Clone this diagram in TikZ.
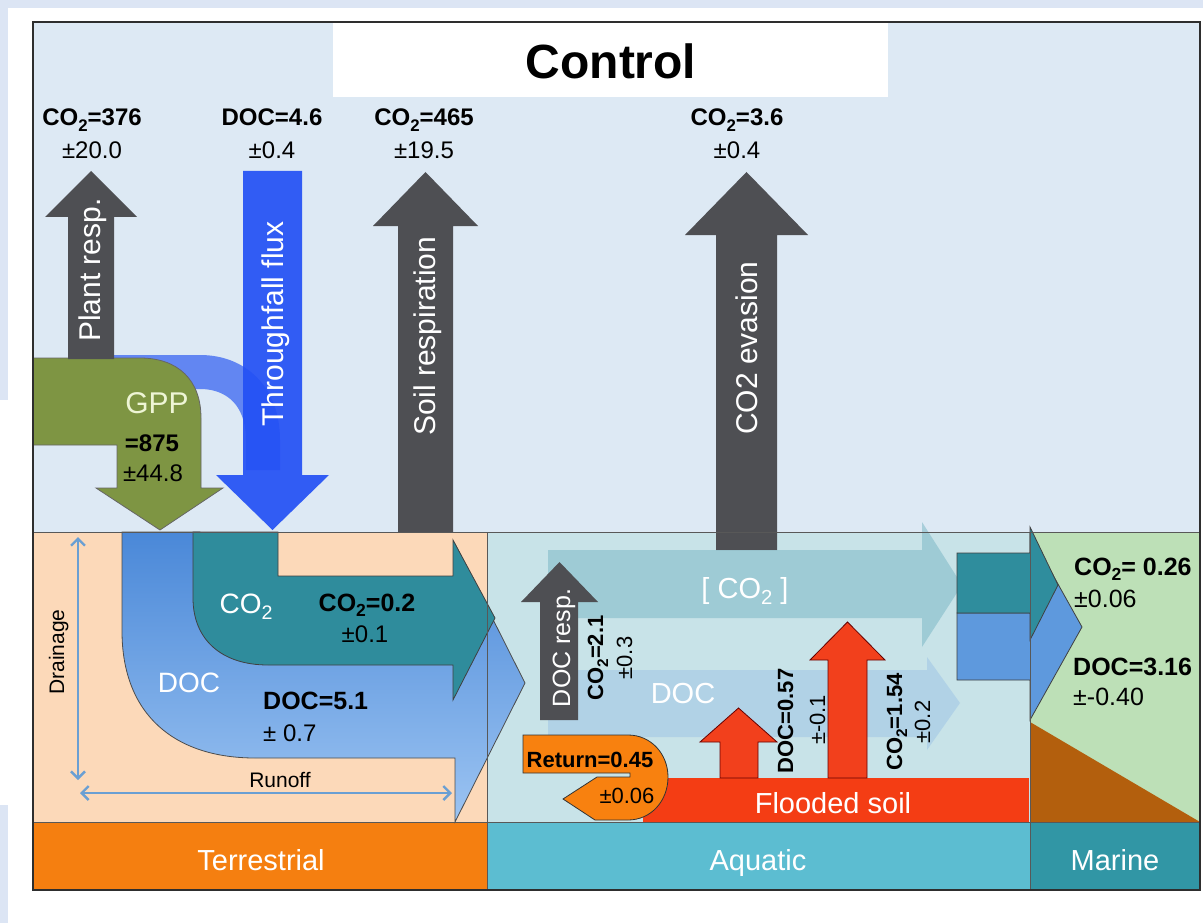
\documentclass[tikz,border=0pt]{standalone}
\usepackage{fontspec}
\setmainfont{Liberation Sans}
\usetikzlibrary{arrows.meta}

\definecolor{sky}{HTML}{DDE9F4}
\definecolor{edgeblue}{HTML}{DCE5F4}
\definecolor{terrbg}{HTML}{FCD9B9}
\definecolor{aquabg}{HTML}{C8E3E8}
\definecolor{marbg}{HTML}{BDE0B7}
\definecolor{terrbar}{HTML}{F57F10}
\definecolor{aquabar}{HTML}{5CBDD1}
\definecolor{marbar}{HTML}{3196A5}
\definecolor{respgray}{HTML}{4E4F53}
\definecolor{gppgreen}{HTML}{7E9543}
\definecolor{gpptext}{HTML}{EEF5D5}
\definecolor{tfblue}{HTML}{2350F5}
\definecolor{bandblue}{HTML}{6286F2}
\definecolor{coteal}{HTML}{2F8C9C}
\definecolor{doctop}{HTML}{4A88D8}
\definecolor{docbot}{HTML}{9CC4F2}
\definecolor{marco}{HTML}{2F8D9D}
\definecolor{mardoc}{HTML}{5E99DD}
\definecolor{flood}{HTML}{F43D14}
\definecolor{redarr}{HTML}{F2401C}
\definecolor{retorange}{HTML}{F8810F}
\definecolor{sediment}{HTML}{B35F0D}
\definecolor{coband}{HTML}{7DB8C6}
\definecolor{docband}{HTML}{9CC3E6}
\definecolor{guide}{HTML}{6A9FD3}
\definecolor{framec}{HTML}{2E2E2E}

\newcommand{\fsz}[1]{\fontsize{#1}{#1}\selectfont}
\newcommand{\lowtwo}{\raisebox{-0.45ex}{\scalebox{0.7}{2}}}

\tikzset{
  valb/.style={font=\fsz{24}\bfseries, inner sep=0pt, anchor=base},
  valn/.style={font=\fsz{24}, inner sep=0pt, anchor=base},
  mvalb/.style={font=\fsz{25}\bfseries, inner sep=0pt, anchor=base west},
  mvaln/.style={font=\fsz{25}, inner sep=0pt, anchor=base west},
  rlbl/.style={font=\fsz{30}, text=white, rotate=90, inner sep=0pt, anchor=base},
  rvalb/.style={font=\fsz{22}\bfseries, rotate=90, inner sep=0pt, anchor=base},
  rvaln/.style={font=\fsz{22}, rotate=90, inner sep=0pt, anchor=base},
  barlbl/.style={font=\fsz{29}, text=white, inner sep=0pt, anchor=base},
  flowlbl/.style={font=\fsz{29}, text=white, inner sep=0pt, anchor=base},
  shapeline/.style={draw=#1, line width=0.8pt},
  guidearrow/.style={draw=guide, line width=2.4pt,
    {Straight Barb[length=7pt,width=14pt]}-{Straight Barb[length=7pt,width=14pt]}},
}

\begin{document}
\begin{tikzpicture}[x=1pt,y=-1pt]
\useasboundingbox (0,0) rectangle (1203,923);
\fill[white] (0,0) rectangle (1203,923);

% page edge strips
\fill[edgeblue] (0,0) rectangle (1203,8);
\fill[edgeblue] (0,0) rectangle (8,400);
\fill[edgeblue] (0,805) rectangle (8,923);

% compartments
\fill[sky] (33,22) rectangle (1200,532);
\fill[white] (333,22) rectangle (888,97);
\fill[terrbg] (33,532) rectangle (487,822);
\fill[aquabg] (487,532) rectangle (1030,822);
\fill[marbg] (1030,532) rectangle (1200,822);
\fill[terrbar] (33,822) rectangle (487,890);
\fill[aquabar] (487,822) rectangle (1030,890);
\fill[marbar] (1030,822) rectangle (1200,890);
\fill[sediment] (1030,722) -- (1030,822) -- (1200,822) -- cycle;

\node[font=\fsz{48}\bfseries, inner sep=0pt, anchor=base] (title) at (611,79) {Control};

% ---------- terrestrial lateral flows ----------
\path[shapeline=black!70, top color=doctop, bottom color=docbot]
  (122,532) -- (122,631) .. controls (122,715) and (175,758) .. (255,758)
  -- (455,758) -- (455,822) -- (525,683) -- (455,544) -- (455,600)
  -- (200,600) -- (200,532) -- cycle;
\path[shapeline=black!75, fill=coteal]
  (193,532) -- (278,532) -- (278,576) -- (453,576) -- (453,540) -- (495,618)
  -- (453,700) -- (453,665) -- (268,665) .. controls (222,665) and (193,640) .. (193,598)
  -- cycle;

\node[flowlbl, font=\fsz{28}] (tco2) at (246,613) {CO\lowtwo};
\node[valb, font=\fsz{25}\bfseries] (tco2v) at (367,611) {CO\lowtwo=0.2};
\node[valn] (tco2e) at (365,642) {±0.1};
\node[flowlbl, font=\fsz{28}] (tdoc) at (189,692) {DOC};
\node[valb, anchor=base west, font=\fsz{25}\bfseries] (tdocv) at (263,709) {DOC=5.1};
\node[valn, anchor=base west] (tdoce) at (263,741) {± 0.7};

% drainage and runoff guides
\coordinate (drTop) at (78,537);
\coordinate (drBot) at (78,780);
\coordinate (rnL) at (80,793);
\coordinate (rnR) at (452,793);
\draw[guidearrow] (drTop) -- (drBot);
\draw[guidearrow] (rnL) -- (rnR);
\node[font=\fsz{21}, rotate=90, inner sep=0pt, anchor=base] (drain) at (64,652) {Drainage};
\node[font=\fsz{21}, inner sep=0pt, anchor=base] (runoff) at (280,787) {Runoff};

% ---------- vertical fluxes ----------
% leaf water path from canopy into throughfall
\draw[bandblue, line width=34pt]
  (100,372) -- (200,372) .. controls (236,372) and (263,396) .. (263,440) -- (263,470);

% GPP
\path[shapeline=black!60, fill=gppgreen]
  (33,358) -- (140,358) .. controls (178,358) and (201,380) .. (201,418)
  -- (201,488) -- (223,488) -- (160,530) -- (96,488) -- (117,488)
  -- (117,445) -- (33,445) -- cycle;
\node[flowlbl, font=\fsz{30}, text=gpptext] (gpp) at (157,413) {GPP};
\node[valb] (gppv) at (152,451) {=875};
\node[valn] (gppe) at (153,481) {±44.8};

% plant respiration
\path[fill=respgray]
  (68,359) -- (68,217) -- (45,217) -- (91,171) -- (137,217) -- (114,217) -- (114,359) -- cycle;
\node[rlbl] (plantresp) at (100,270) {Plant resp.};

% throughfall
\path[fill=tfblue, fill opacity=0.92]
  (243,171) -- (302,171) -- (302,475) -- (329,475) -- (272.5,530) -- (216,475) -- (243,475) -- cycle;
\node[rlbl] (through) at (283,324) {Throughfall flux};

% soil respiration
\path[fill=respgray]
  (398,532) -- (398,226) -- (373,226) -- (425.5,172) -- (478,226) -- (453,226) -- (453,532) -- cycle;
\node[rlbl] (soilresp) at (435,336) {Soil respiration};

% CO2 evasion
\path[fill=respgray]
  (716,550) -- (716,235) -- (685,235) -- (746.5,172) -- (808,235) -- (777,235) -- (777,550) -- cycle;
\node[rlbl] (evasion) at (757,348) {CO2 evasion};

% flux values above the atmosphere
\node[valb] (v1) at (92,126) {CO\lowtwo=376};
\node[valn] (e1) at (92,159) {±20.0};
\node[valb] (v2) at (272,126) {DOC=4.6};
\node[valn] (e2) at (272,159) {±0.4};
\node[valb] (v3) at (424,126) {CO\lowtwo=465};
\node[valn] (e3) at (424,159) {±19.5};
\node[valb] (v4) at (737,126) {CO\lowtwo=3.6};
\node[valn] (e4) at (737,159) {±0.4};

% ---------- aquatic ----------
\path[fill=coband, fill opacity=0.55]
  (548,550) -- (922,550) -- (922,522) -- (962,585) -- (922,647) -- (922,618) -- (548,618) -- cycle;
\path[fill=docband, fill opacity=0.5]
  (548,670) -- (927,670) -- (927,657) -- (960,703) -- (927,750) -- (927,737) -- (548,737) -- cycle;
\node[flowlbl] (acoband) at (745,598) {[ CO\lowtwo\ ]};
\node[flowlbl] (adocband) at (683,703) {DOC};

% flooded soil
\fill[flood] (643,778) rectangle (1029,822);
\node[barlbl] (flooded) at (833,813) {Flooded soil};

\path[shapeline=red!40!black, fill=redarr]
  (720,778) -- (720,742) -- (700,742) -- (738.5,708) -- (777,742) -- (758,742) -- (758,778) -- cycle;
\path[shapeline=red!40!black, fill=redarr]
  (828,778) -- (828,660) -- (810,660) -- (847.5,622) -- (885,660) -- (867,660) -- (867,778) -- cycle;
\node[rvalb] (fdoc) at (793,721) {DOC=0.57};
\node[rvaln] (fdoce) at (825,720) {±-0.1};
\node[rvalb] (fco2) at (902,722) {CO\lowtwo=1.54};
\node[rvaln] (fco2e) at (930,722) {±0.2};

% DOC respiration
\path[fill=respgray]
  (540,720) -- (540,602) -- (521,602) -- (559.5,562) -- (598,602) -- (578,602) -- (578,720) -- cycle;
\node[rlbl, font=\fsz{25}] (docresp) at (570,648) {DOC resp.};
\node[rvalb] (drv) at (603,658) {CO\lowtwo=2.1};
\node[rvaln] (dre) at (632,658) {±0.3};

% return flow
\path[shapeline=black!80, fill=retorange]
  (523,735) -- (628,735) .. controls (651,735) and (668,754) .. (668,777)
  .. controls (668,801) and (651,820) .. (628,820) -- (595,820) -- (563,799)
  -- (597,777) -- (630,777) -- (630,773) -- (523,773) -- cycle;
\node[valb, font=\fsz{22}\bfseries] (ret) at (590,767) {Return=0.45};
\node[valn, font=\fsz{22}] (rete) at (627,803) {±0.06};

% ---------- export to the sea ----------
\path[shapeline=black!75, fill=mardoc]
  (957,613) -- (1030,613) -- (1030,534) -- (1082,627) -- (1030,720) -- (1030,680) -- (957,680) -- cycle;
\path[shapeline=black!75, fill=marco]
  (957,553) -- (1030,553) -- (1030,527) -- (1058,585) -- (1030,640) -- (1030,613) -- (957,613) -- cycle;
\node[mvalb] (mco2) at (1074,575) {CO\lowtwo= 0.26};
\node[mvaln] (mco2e) at (1074,607) {±0.06};
\node[mvalb] (mdoc) at (1073,675) {DOC=3.16};
\node[mvaln] (mdoce) at (1073,705) {±-0.40};

% ---------- frame and dividers ----------
\draw[framec!80, line width=1pt] (33,532) -- (1200,532);
\draw[framec!80, line width=1pt] (33,822) -- (1200,822);
\draw[framec!80, line width=1pt] (487,532) -- (487,890);
\draw[framec!80, line width=1pt] (1030,532) -- (1030,890);
\draw[framec, line width=1.6pt] (33,22) rectangle (1200,890);

% compartment names
\node[barlbl] (terr) at (261,870) {Terrestrial};
\node[barlbl] (aqua) at (758,870) {Aquatic};
\node[barlbl] (mar) at (1115,870) {Marine};
\end{tikzpicture}
\end{document}
